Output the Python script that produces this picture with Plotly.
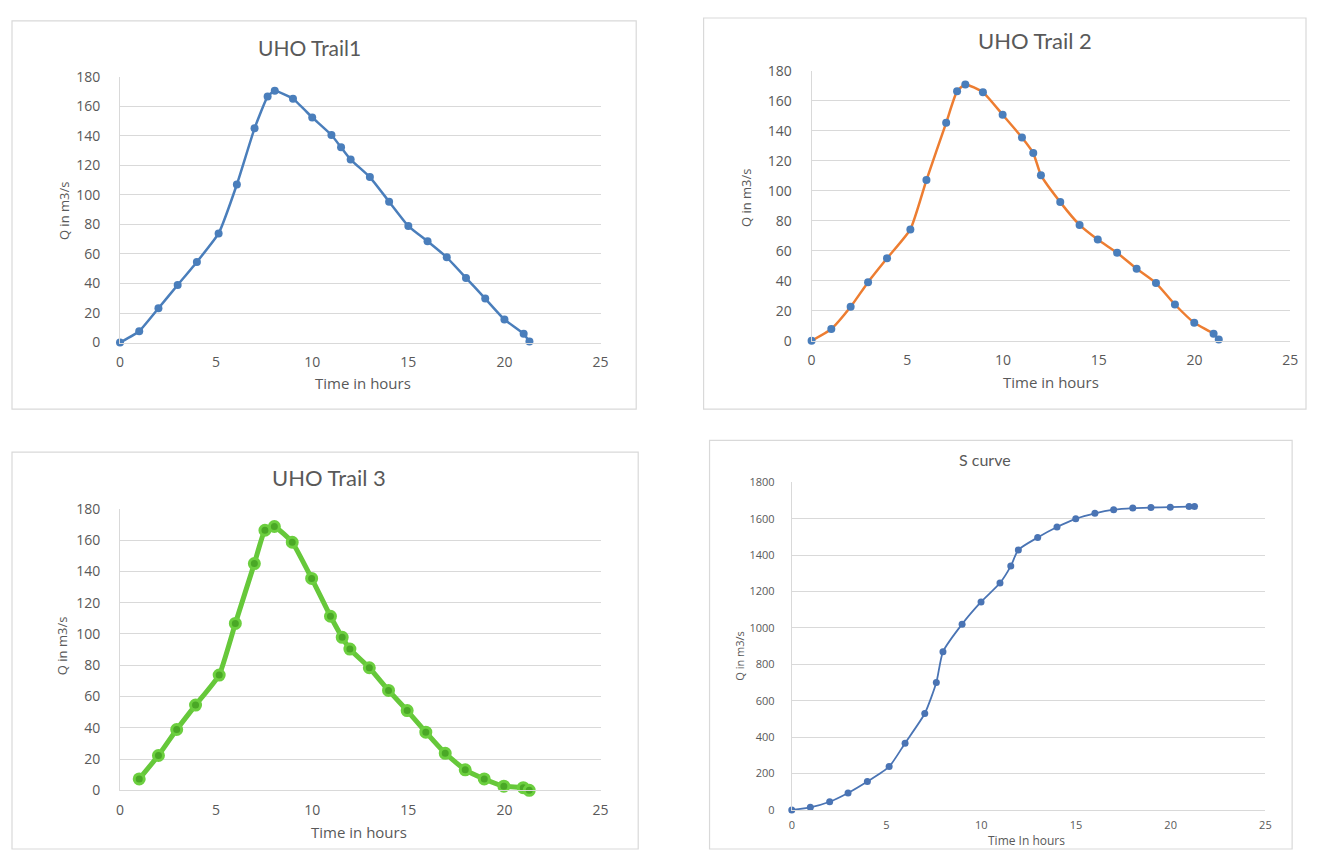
import plotly.graph_objects as go

# ---------------- data ----------------
t1 = [0, 1, 2, 3, 4, 5.13, 6.08, 7, 7.68, 8.05, 9, 10, 11, 11.5, 12, 13, 14, 15, 16, 17, 18, 19, 20, 21, 21.3]
q1 = [0, 7.7, 23.2, 39, 54.6, 73.9, 107, 145, 166.6, 170.4, 165, 152.4, 140.5, 132.2, 123.9, 112, 95.4, 78.9, 68.6, 57.7, 43.8, 29.8, 15.6, 5.9, 0.7]

t2 = [0, 1.03, 2.04, 2.95, 3.94, 5.16, 6, 7.03, 7.6, 8.03, 8.95, 9.98, 10.99, 11.58, 11.98, 12.99, 14, 14.95, 15.96, 16.98, 17.99, 18.98, 19.99, 21, 21.27]
q2 = [0, 7.8, 22.6, 39, 54.9, 74.2, 107.1, 145.3, 166.3, 170.9, 165.7, 150.7, 135.5, 125.1, 110.4, 92.4, 77.2, 67.4, 58.6, 47.9, 38.4, 24.1, 11.9, 4.6, 0.7]

t3 = [1, 2, 2.95, 3.93, 5.16, 6, 6.99, 7.54, 8.03, 8.96, 9.97, 10.95, 11.56, 11.96, 12.97, 13.97, 14.94, 15.91, 16.92, 17.96, 18.95, 19.97, 20.98, 21.29]
q3 = [7.3, 22.3, 38.9, 54.5, 73.7, 106.7, 145, 166.3, 168.7, 158.6, 135.5, 111.3, 97.8, 90.3, 78.4, 63.9, 51, 37.2, 23.7, 13.1, 7.3, 2.7, 1.7, 0]

t4 = [0, 0.98, 2, 2.97, 3.99, 5.14, 5.98, 7.02, 7.63, 7.98, 8.99, 9.99, 10.99, 11.56, 11.96, 12.98, 14, 14.99, 16, 16.99, 18, 18.96, 19.98, 20.97, 21.26]
q4 = [0, 14, 45, 93, 156, 238, 367, 530, 700, 869, 1021, 1143, 1247, 1340, 1429, 1497, 1555, 1600, 1630, 1650, 1659, 1662, 1664, 1667, 1667]

titles = ["UHO Trail1", "UHO Trail 2", "UHO Trail 3", "S curve"]
x_title = ["Time in hours", "Time in hours", "Time in hours", "Time In hours"]
y_title = "Q in m3/s"

# ---------------- layout helpers ----------------
# page is 1323x867; the html body keeps its default 8px margin
PAGE_W, PAGE_H, M = 1323, 867, 8
W, H = PAGE_W - 2 * M, PAGE_H - 2 * M
def px(x):
    return (x - M) / W
def py(y):
    return 1 - (y - M) / H

GRAY = "#595959"
GRID = "#d9d9d9"
FONT = "Open Sans, Lato, sans-serif"
TFONT = "Lato, Open Sans, sans-serif"

fig = go.Figure()

# plot areas in page pixels: (left, right, top, bottom)
areas = [(117, 602, 68, 340), (815, 1298, 62, 338), (117, 602, 510, 798), (795, 1273, 483, 818)]
boxes = [(8, 11, 638, 408), (706, 8, 1314, 408), (8, 452, 640, 858), (712, 440, 1300, 858)]

fig.add_trace(go.Scatter(x=t1, y=q1, mode="lines+markers", xaxis="x", yaxis="y",
                         line=dict(color="#4a7ebb", width=2.5, shape="spline", smoothing=0.4),
                         marker=dict(color="#4a7ebb", size=8), cliponaxis=False))
fig.add_trace(go.Scatter(x=t2, y=q2, mode="lines+markers", xaxis="x2", yaxis="y2",
                         line=dict(color="#ed7d31", width=2.5, shape="spline", smoothing=0.5),
                         marker=dict(color="#4a7ebb", size=8), cliponaxis=False))
fig.add_trace(go.Scatter(x=t3, y=q3, mode="lines+markers", xaxis="x3", yaxis="y3",
                         line=dict(color="#66c83a", width=5, shape="spline", smoothing=0.4),
                         marker=dict(color="#4aa826", size=10, line=dict(color="#6ccf3f", width=3)),
                         cliponaxis=False))
fig.add_trace(go.Scatter(x=t4, y=q4, mode="lines+markers", xaxis="x4", yaxis="y4",
                         line=dict(color="#4a74b4", width=1.8, shape="spline", smoothing=0.6),
                         marker=dict(color="#4a74b4", size=7), cliponaxis=False))

layout = dict(width=W, height=H, margin=dict(l=0, r=0, t=0, b=0),
              paper_bgcolor="white", plot_bgcolor="white", showlegend=False)

annotations = []
shapes = []
y_title_pos = [(60, 205), (749, 192), (58, 650), (742, 660)]
x_title_pos = [(362, 381), (1057, 380), (358, 841), (1032, 849)]
title_pos = [(308, 38), (1040, 31), (328, 478), (990, 460)]
title_size = [21, 22, 22, 16]

for i, (l, r, t, b) in enumerate(areas):
    k = "" if i == 0 else str(i + 1)
    small = i == 3
    tick_size = 11 if small else 14
    layout["xaxis" + k] = dict(domain=[px(l), px(r)], anchor="y" + k, range=[0, 25], dtick=5,
                               showgrid=False, zeroline=False, showline=True, linecolor=GRID, linewidth=1,
                               ticks="", ticklabelstandoff=5 if small else 7,
                               tickfont=dict(family=FONT, size=tick_size, color=GRAY))
    layout["yaxis" + k] = dict(domain=[py(b), py(t)], anchor="x" + k,
                               range=[0, 1800] if small else [0, 180], dtick=200 if small else 20,
                               showgrid=True, gridcolor=GRID, gridwidth=1, zeroline=False,
                               showline=True, linecolor=GRID, linewidth=1,
                               ticks="", ticklabelstandoff=14 if small else 16,
                               tickfont=dict(family=FONT, size=tick_size, color=GRAY))
    bx0, by0, bx1, by1 = boxes[i]
    shapes.append(dict(type="rect", xref="paper", yref="paper", x0=px(bx0), x1=px(bx1),
                       y0=py(by1), y1=py(by0), line=dict(color=GRID, width=1.2), layer="below"))
    tx, ty = title_pos[i]
    annotations.append(dict(text=titles[i], x=px(tx), y=py(ty), xref="paper", yref="paper",
                            showarrow=False, xanchor="center", yanchor="middle",
                            font=dict(family=TFONT, size=title_size[i], color=GRAY)))
    ax, ay = x_title_pos[i]
    annotations.append(dict(text=x_title[i], x=px(ax), y=py(ay), xref="paper", yref="paper",
                            showarrow=False, xanchor="center", yanchor="middle",
                            font=dict(family=FONT, size=12 if small else 15, color=GRAY)))
    yx, yy = y_title_pos[i]
    annotations.append(dict(text=y_title, x=px(yx), y=py(yy), xref="paper", yref="paper",
                            showarrow=False, xanchor="center", yanchor="middle", textangle=-90,
                            font=dict(family=FONT, size=11 if small else 13, color=GRAY)))

layout["annotations"] = annotations
layout["shapes"] = shapes
fig.update_layout(**layout)

fig.write_html("out.html", config={"displayModeBar": False})
